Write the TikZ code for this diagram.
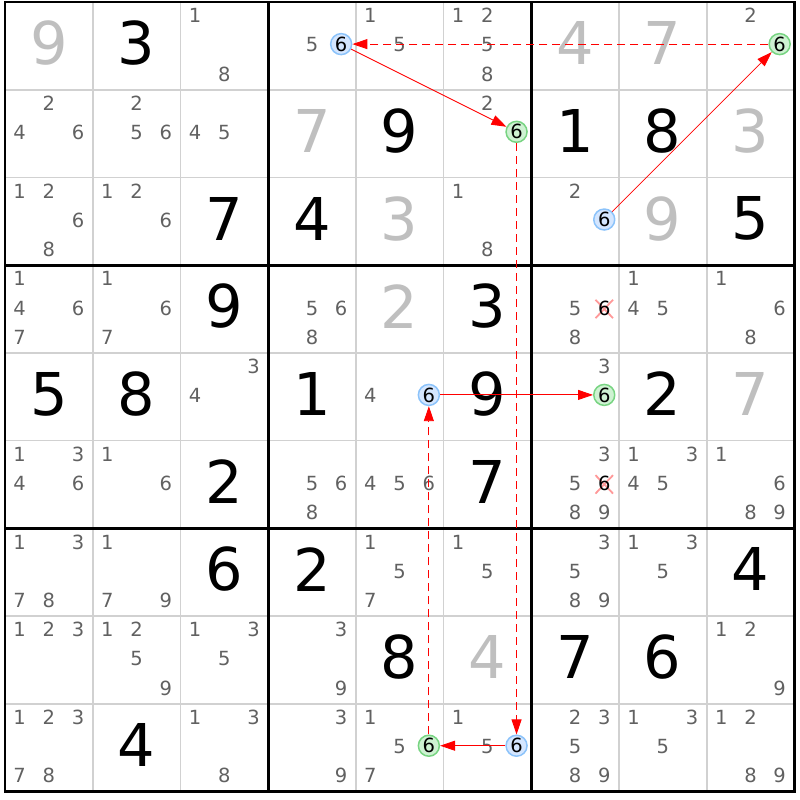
\documentclass[tikz,border=0pt]{standalone}
\usepackage{fontspec}
\setmainfont{DejaVu Sans}
\usetikzlibrary{arrows.meta}
\definecolor{bline}{RGB}{140,195,250}
\definecolor{bfill}{RGB}{212,230,255}
\definecolor{gline}{RGB}{120,212,130}
\definecolor{gfill}{RGB}{206,242,210}
\begin{document}
\begin{tikzpicture}[x=87.7pt, y=-87.7pt, line join=round, >={Triangle[length=15pt,width=10pt]},
    big/.style={inner sep=0pt, font=\fontsize{59}{59}\selectfont},
    cand/.style={inner sep=0pt, font=\fontsize{19.5}{20}\selectfont, text=\cgray},
    ring/.style={circle, inner sep=0pt, minimum size=21pt, line width=1.5pt, font=\fontsize{19.5}{20}\selectfont},
    bluering/.style={ring, draw=bline, fill=bfill},
    greenring/.style={ring, draw=gline, fill=gfill},
    strong/.style={->, red, line width=0.9pt},
    weak/.style={strong, dash pattern=on 8pt off 5pt}]
	\def\cgray{black!62}
	\def\sgray{black!25}
	\def\lgray{black!18}
	\useasboundingbox (-0.057,-0.023) rectangle (9.065,9.099);
	\foreach \i in {1,...,8} \draw[\lgray, line width=1.8pt] (\i,0)--(\i,9) (0,\i)--(9,\i);
	\foreach \i in {0,3,6,9} \draw[line width=2.8pt, line cap=rect] (\i,0)--(\i,9) (0,\i)--(9,\i);
	\foreach \r/\c/\d in {1/2/3, 2/5/9, 2/7/1, 2/8/8, 3/3/7, 3/4/4, 3/9/5, 4/3/9, 4/6/3, 5/1/5, 5/2/8, 5/4/1, 5/6/9, 5/8/2, 6/3/2, 6/6/7, 7/3/6, 7/4/2, 7/9/4, 8/5/8, 8/7/7, 8/8/6, 9/2/4}
		\node[big] (g\r\c) at (\c-0.5,\r-0.53) {\d};
	\foreach \r/\c/\d in {1/1/9, 1/7/4, 1/8/7, 2/4/7, 2/9/3, 3/5/3, 3/8/9, 4/5/2, 5/9/7, 8/6/4}
		\node[big, text=\sgray] (s\r\c) at (\c-0.5,\r-0.53) {\d};
	\foreach \r/\c/\l in {1/3/{1,8}, 1/4/{5}, 1/5/{1,5}, 1/6/{1,2,5,8}, 1/9/{2},
		2/1/{2,4,6}, 2/2/{2,5,6}, 2/3/{4,5}, 2/6/{2},
		3/1/{1,2,6,8}, 3/2/{1,2,6}, 3/6/{1,8}, 3/7/{2},
		4/1/{1,4,6,7}, 4/2/{1,6,7}, 4/4/{5,6,8}, 4/7/{5,8}, 4/8/{1,4,5}, 4/9/{1,6,8},
		5/3/{3,4}, 5/5/{4}, 5/7/{3},
		6/1/{1,3,4,6}, 6/2/{1,6}, 6/4/{5,6,8}, 6/5/{4,5,6}, 6/7/{3,5,8,9}, 6/8/{1,3,4,5}, 6/9/{1,6,8,9},
		7/1/{1,3,7,8}, 7/2/{1,7,9}, 7/5/{1,5,7}, 7/6/{1,5}, 7/7/{3,5,8,9}, 7/8/{1,3,5},
		8/1/{1,2,3}, 8/2/{1,2,5,9}, 8/3/{1,3,5}, 8/4/{3,9}, 8/9/{1,2,9},
		9/1/{1,2,3,7,8}, 9/3/{1,3,8}, 9/4/{3,9}, 9/5/{1,5,7}, 9/6/{1,5}, 9/7/{2,3,5,8,9}, 9/8/{1,3,5}, 9/9/{1,2,8,9}}
		\foreach \n in \l
			\node[cand] (c\r\c\n) at ({\c-1+(mod(\n-1,3)+0.5)/3},{\r-1.01+(int((\n-1)/3)+0.5)/3}) {\n};
	\foreach \r in {4,6} {
		\draw[red!40, line width=1.8pt] (6.833,\r-0.5) +(-0.1,-0.105)--+(0.1,0.105) +(-0.1,0.105)--+(0.1,-0.105);
		\node[cand, text=black] (x\r) at (6.833,\r-0.51) {6};
	}
	\node[bluering] (r1c4) at (3.833,0.48) {6};
	\node[greenring] (r1c9) at (8.833,0.48) {6};
	\node[greenring] (r2c6) at (5.833,1.48) {6};
	\node[bluering] (r3c7) at (6.833,2.48) {6};
	\node[bluering] (r5c5) at (4.833,4.48) {6};
	\node[greenring] (r5c7) at (6.833,4.48) {6};
	\node[greenring] (r9c5) at (4.833,8.48) {6};
	\node[bluering] (r9c6) at (5.833,8.48) {6};
	\draw[weak] (r1c9) -- (r1c4);
	\draw[strong] (r1c4) -- (r2c6);
	\draw[weak] (r2c6) -- (r9c6);
	\draw[strong] (r9c6) -- (r9c5);
	\draw[weak] (r9c5) -- (r5c5);
	\draw[strong] (r5c5) -- (r5c7);
	\draw[strong, line width=0.7pt] (r3c7) -- (r1c9);
\end{tikzpicture}
\end{document}
